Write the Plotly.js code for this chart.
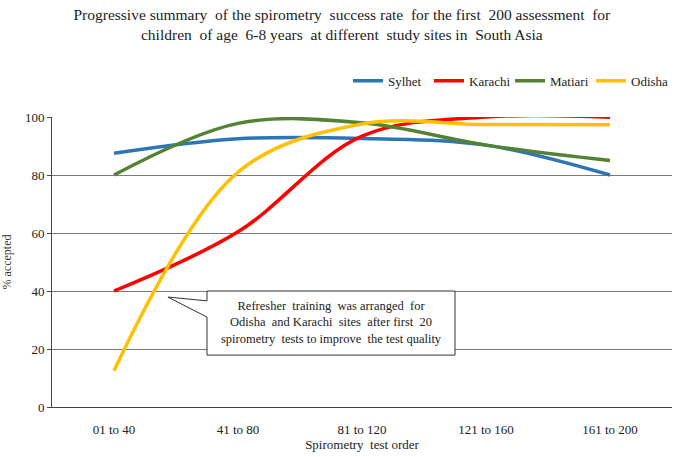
<!DOCTYPE html>
<html>
<head>
<meta charset="utf-8">
<script src="https://cdn.plot.ly/plotly-3.0.1.min.js"></script>
<style>html,body{margin:0;padding:0;background:#fff;}#chart{width:677px;height:457px;}</style>
</head>
<body>
<div id="chart"></div>
<script>
const categories = ["01 to 40", "41 to 80", "81 to 120", "121 to 160", "161 to 200"];
const sylhet  = [87.5, 92.5, 92.6, 90.3, 80];
const karachi = [40, 60.4, 93.4, 100, 99.9];
const matiari = [80, 97.8, 98, 90.3, 85];
const odisha  = [12.5, 81, 97.6, 97.4, 97.3];
const seriesNames = ["Sylhet", "Karachi", "Matiari", "Odisha"];
const seriesColors = ["#2E75B6", "#FF0000", "#548235", "#FFC000"];
const yTicks = [0, 20, 40, 60, 80, 100];
const titleText = "Progressive summary  of the spirometry  success rate  for the first  200 assessment  for<br>children  of age  6-8 years  at different  study sites in  South Asia";
const noteText = "Refresher  training  was arranged  for<br>Odisha  and Karachi  sites  after first  20<br>spirometry  tests to improve  the test quality";

const serif = "'Liberation Serif', 'Times New Roman', serif";
const allValues = [sylhet, karachi, matiari, odisha];
const traces = allValues.map((vals, i) => ({
  x: categories, y: vals, type: "scatter", mode: "lines", name: seriesNames[i],
  line: {color: seriesColors[i], width: 3.5, shape: "spline", smoothing: 1.0}
}));

const layout = {
  width: 677, height: 457,
  margin: {l: 52, r: 5, t: 117, b: 50},
  paper_bgcolor: "#fff", plot_bgcolor: "#fff",
  font: {family: serif, size: 13, color: "#222"},
  title: {text: titleText, font: {family: serif, size: 15.5, color: "#222"},
          x: 0.505, xanchor: "center", y: 0.957, yanchor: "top"},
  showlegend: true,
  legend: {orientation: "h", x: 1.0, xanchor: "right", y: 1.125, yanchor: "middle",
           font: {family: serif, size: 13, color: "#222"}, itemwidth: 30, tracegroupgap: 0,
           entrywidth: 36, entrywidthmode: "pixels",
           bgcolor: "rgba(0,0,0,0)"},
  xaxis: {type: "category", showgrid: false, showline: true, linecolor: "#444", linewidth: 1,
          ticks: "", ticklabelstandoff: 10, tickfont: {family: serif, size: 13, color: "#222"},
          title: {text: "Spirometry  test order", font: {family: serif, size: 13, color: "#222"}, standoff: 4},
          range: [-0.5, 4.5], zeroline: false},
  yaxis: {range: [0, 100], tickvals: yTicks, showgrid: true, gridcolor: "#7a7a7a", gridwidth: 1,
          showline: true, linecolor: "#444", linewidth: 1, ticks: "outside", ticklen: 4, tickcolor: "#444",
          tickfont: {family: serif, size: 13, color: "#222"}, zeroline: false,
          title: {text: "% accepted", font: {family: serif, size: 12, color: "#333"}, standoff: 10}},
  shapes: [{
    type: "path", xref: "paper", yref: "y", layer: "above",
    path: "M 0.25 40 L 0.65 40 L 0.65 17.9 L 0.25 17.9 L 0.25 31 L 0.187 37.9 L 0.25 36.6 Z",
    line: {color: "#333", width: 1}, fillcolor: "#fff"
  }],
  annotations: [{
    xref: "paper", yref: "y", x: 0.45, y: 29, text: noteText, showarrow: false,
    font: {family: serif, size: 12.5, color: "#222"}, align: "center"
  }]
};

Plotly.newPlot("chart", traces, layout, {displayModeBar: false, staticPlot: true});
</script>
</body>
</html>
